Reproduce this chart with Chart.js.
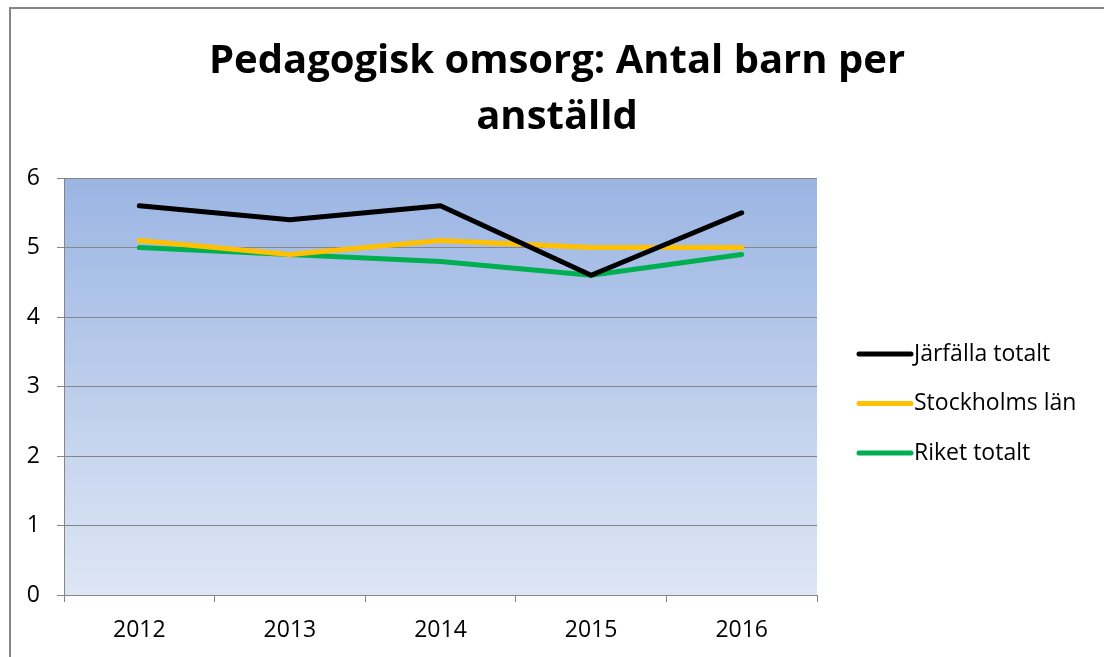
<!DOCTYPE html>
<html>
<head>
<meta charset="utf-8">
<script src="https://cdn.jsdelivr.net/npm/chart.js@4.4.0/dist/chart.umd.min.js"></script>
<style>
    html, body { margin: 0; padding: 0; background: #fff; }
    #wrap { width: 1104px; height: 657px; position: relative; }
</style>
</head>
<body>
<div id="wrap"><canvas id="lineChart"></canvas></div>
<script>
// chart data
const years = ['2012', '2013', '2014', '2015', '2016'];
const jarfalla = [5.6, 5.4, 5.6, 4.6, 5.5];
const stockholm = [5.1, 4.9, 5.1, 5.0, 5.0];
const riket = [5.0, 4.9, 4.8, 4.6, 4.9];
const seriesNames = ['Järfälla totalt', 'Stockholms län', 'Riket totalt'];
const seriesColors = ['#000000', '#FFC000', '#00B050'];
const titleLines = ['Pedagogisk omsorg: Antal barn per', 'anställd'];
const yTicks = [0, 1, 2, 3, 4, 5, 6];

const FONT = '"Open Sans", "DejaVu Sans", sans-serif';

// outer frame + gradient plot background
const framePlugin = {
    id: 'frame',
    beforeDraw(chart) {
        const ctx = chart.ctx;
        const a = chart.chartArea;
        ctx.save();
        ctx.fillStyle = '#fff';
        ctx.fillRect(0, 0, chart.width, chart.height);
        ctx.strokeStyle = '#868686';
        ctx.lineWidth = 2;
        ctx.beginPath();
        ctx.moveTo(10, chart.height + 5);
        ctx.lineTo(10, 8);
        ctx.lineTo(chart.width + 5, 8);
        ctx.stroke();
        const grad = ctx.createLinearGradient(0, a.top, 0, a.bottom);
        grad.addColorStop(0, '#9BB5E3');
        grad.addColorStop(1, '#DEE6F4');
        ctx.fillStyle = grad;
        ctx.fillRect(a.left, a.top, a.right - a.left, a.bottom - a.top);
        ctx.restore();
    }
};

// title and legend sit outside the plot area, like the office chart
const textPlugin = {
    id: 'texts',
    afterDraw(chart) {
        const ctx = chart.ctx;
        ctx.save();
        ctx.fillStyle = '#000';
        ctx.textAlign = 'center';
        ctx.textBaseline = 'alphabetic';
        ctx.font = 'bold 40px ' + FONT;
        ctx.fillText(titleLines[0], 557, 73);
        ctx.fillText(titleLines[1], 557, 129);

        ctx.textAlign = 'left';
        ctx.textBaseline = 'middle';
        ctx.font = '23px ' + FONT;
        ctx.lineWidth = 5;
        ctx.lineCap = 'round';
        chart.data.datasets.forEach((ds, i) => {
            const y = 354 + i * 49.5;
            ctx.strokeStyle = ds.borderColor;
            ctx.beginPath();
            ctx.moveTo(859, y);
            ctx.lineTo(911, y);
            ctx.stroke();
            ctx.fillText(ds.label, 914, y);
        });
        ctx.restore();
    }
};

function makeDataset(i, data) {
    return {
        label: seriesNames[i],
        data: data,
        borderColor: seriesColors[i],
        backgroundColor: seriesColors[i],
        borderWidth: 5,
        borderCapStyle: 'round',
        borderJoinStyle: 'round',
        pointRadius: 0,
        tension: 0
    };
}

const ctx = document.getElementById('lineChart').getContext('2d');
new Chart(ctx, {
    type: 'line',
    data: {
        labels: years,
        datasets: [
            makeDataset(0, jarfalla),
            makeDataset(1, stockholm),
            makeDataset(2, riket)
        ]
    },
    plugins: [framePlugin, textPlugin],
    options: {
        responsive: true,
        maintainAspectRatio: false,
        animation: false,
        layout: { padding: { left: 8, right: 287, top: 178, bottom: 0 } },
        plugins: {
            title: { display: false },
            legend: { display: false },
            tooltip: { enabled: false }
        },
        scales: {
            x: {
                offset: true,
                afterFit(axis) { axis.height = 62; },
                grid: {
                    offset: true,
                    drawOnChartArea: false,
                    color: '#868686',
                    tickLength: 7
                },
                border: { color: '#868686', width: 1 },
                ticks: {
                    color: '#000',
                    font: { family: FONT, size: 23, lineHeight: 1.0 },
                    padding: 17
                }
            },
            y: {
                min: 0,
                max: 6,
                afterBuildTicks(axis) {
                    axis.ticks = yTicks.map(v => ({ value: v }));
                },
                afterFit(axis) { axis.width = 56; },
                grid: { color: '#868686', tickLength: 7 },
                border: { color: '#868686', width: 1 },
                ticks: {
                    color: '#000',
                    font: { family: FONT, size: 23 },
                    padding: 17
                }
            }
        }
    }
});
</script>
</body>
</html>
